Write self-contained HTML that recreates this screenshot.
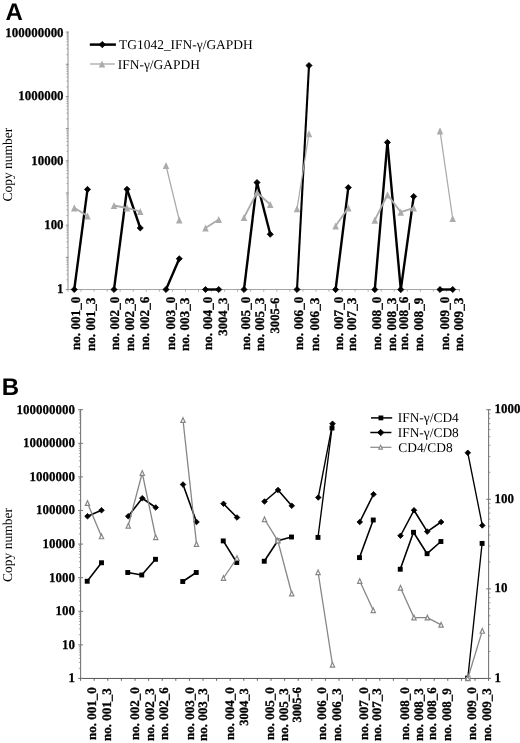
<!DOCTYPE html>
<html lang="en"><head><meta charset="utf-8"><title>Figure</title>
<style>html,body{margin:0;padding:0;background:#fff}svg{display:block}</style></head>
<body>
<svg width="520" height="743" viewBox="0 0 520 743">
<rect width="520" height="743" fill="#fff"/>
<g text-rendering="geometricPrecision">
<text x="5.4" y="19.6" font-size="24" font-weight="bold" text-anchor="start" font-family="'Liberation Sans', sans-serif" fill="#000" >A</text>
<text x="1.8" y="395" font-size="24" font-weight="bold" text-anchor="start" font-family="'Liberation Sans', sans-serif" fill="#000" >B</text>
<line x1="68" y1="31.6" x2="68" y2="290" stroke="#8e8e8e" stroke-width="1.0" />
<line x1="67.5" y1="289.5" x2="460" y2="289.5" stroke="#a4a4a4" stroke-width="1.1" />
<line x1="65.8" y1="289.5" x2="68.6" y2="289.5" stroke="#8e8e8e" stroke-width="1" />
<line x1="66.4" y1="279.81" x2="68" y2="279.81" stroke="#8e8e8e" stroke-width="0.7" />
<line x1="66.4" y1="274.15" x2="68" y2="274.15" stroke="#8e8e8e" stroke-width="0.7" />
<line x1="66.4" y1="270.13" x2="68" y2="270.13" stroke="#8e8e8e" stroke-width="0.7" />
<line x1="66.4" y1="267.01" x2="68" y2="267.01" stroke="#8e8e8e" stroke-width="0.7" />
<line x1="66.4" y1="264.46" x2="68" y2="264.46" stroke="#8e8e8e" stroke-width="0.7" />
<line x1="66.4" y1="262.31" x2="68" y2="262.31" stroke="#8e8e8e" stroke-width="0.7" />
<line x1="66.4" y1="260.44" x2="68" y2="260.44" stroke="#8e8e8e" stroke-width="0.7" />
<line x1="66.4" y1="258.8" x2="68" y2="258.8" stroke="#8e8e8e" stroke-width="0.7" />
<line x1="65.8" y1="257.32" x2="68.6" y2="257.32" stroke="#8e8e8e" stroke-width="1" />
<line x1="66.4" y1="247.64" x2="68" y2="247.64" stroke="#8e8e8e" stroke-width="0.7" />
<line x1="66.4" y1="241.97" x2="68" y2="241.97" stroke="#8e8e8e" stroke-width="0.7" />
<line x1="66.4" y1="237.95" x2="68" y2="237.95" stroke="#8e8e8e" stroke-width="0.7" />
<line x1="66.4" y1="234.84" x2="68" y2="234.84" stroke="#8e8e8e" stroke-width="0.7" />
<line x1="66.4" y1="232.29" x2="68" y2="232.29" stroke="#8e8e8e" stroke-width="0.7" />
<line x1="66.4" y1="230.13" x2="68" y2="230.13" stroke="#8e8e8e" stroke-width="0.7" />
<line x1="66.4" y1="228.27" x2="68" y2="228.27" stroke="#8e8e8e" stroke-width="0.7" />
<line x1="66.4" y1="226.62" x2="68" y2="226.62" stroke="#8e8e8e" stroke-width="0.7" />
<line x1="65.8" y1="225.15" x2="68.6" y2="225.15" stroke="#8e8e8e" stroke-width="1" />
<line x1="66.4" y1="215.46" x2="68" y2="215.46" stroke="#8e8e8e" stroke-width="0.7" />
<line x1="66.4" y1="209.8" x2="68" y2="209.8" stroke="#8e8e8e" stroke-width="0.7" />
<line x1="66.4" y1="205.78" x2="68" y2="205.78" stroke="#8e8e8e" stroke-width="0.7" />
<line x1="66.4" y1="202.66" x2="68" y2="202.66" stroke="#8e8e8e" stroke-width="0.7" />
<line x1="66.4" y1="200.11" x2="68" y2="200.11" stroke="#8e8e8e" stroke-width="0.7" />
<line x1="66.4" y1="197.96" x2="68" y2="197.96" stroke="#8e8e8e" stroke-width="0.7" />
<line x1="66.4" y1="196.09" x2="68" y2="196.09" stroke="#8e8e8e" stroke-width="0.7" />
<line x1="66.4" y1="194.45" x2="68" y2="194.45" stroke="#8e8e8e" stroke-width="0.7" />
<line x1="65.8" y1="192.98" x2="68.6" y2="192.98" stroke="#8e8e8e" stroke-width="1" />
<line x1="66.4" y1="183.29" x2="68" y2="183.29" stroke="#8e8e8e" stroke-width="0.7" />
<line x1="66.4" y1="177.62" x2="68" y2="177.62" stroke="#8e8e8e" stroke-width="0.7" />
<line x1="66.4" y1="173.6" x2="68" y2="173.6" stroke="#8e8e8e" stroke-width="0.7" />
<line x1="66.4" y1="170.49" x2="68" y2="170.49" stroke="#8e8e8e" stroke-width="0.7" />
<line x1="66.4" y1="167.94" x2="68" y2="167.94" stroke="#8e8e8e" stroke-width="0.7" />
<line x1="66.4" y1="165.78" x2="68" y2="165.78" stroke="#8e8e8e" stroke-width="0.7" />
<line x1="66.4" y1="163.92" x2="68" y2="163.92" stroke="#8e8e8e" stroke-width="0.7" />
<line x1="66.4" y1="162.27" x2="68" y2="162.27" stroke="#8e8e8e" stroke-width="0.7" />
<line x1="65.8" y1="160.8" x2="68.6" y2="160.8" stroke="#8e8e8e" stroke-width="1" />
<line x1="66.4" y1="151.11" x2="68" y2="151.11" stroke="#8e8e8e" stroke-width="0.7" />
<line x1="66.4" y1="145.45" x2="68" y2="145.45" stroke="#8e8e8e" stroke-width="0.7" />
<line x1="66.4" y1="141.43" x2="68" y2="141.43" stroke="#8e8e8e" stroke-width="0.7" />
<line x1="66.4" y1="138.31" x2="68" y2="138.31" stroke="#8e8e8e" stroke-width="0.7" />
<line x1="66.4" y1="135.76" x2="68" y2="135.76" stroke="#8e8e8e" stroke-width="0.7" />
<line x1="66.4" y1="133.61" x2="68" y2="133.61" stroke="#8e8e8e" stroke-width="0.7" />
<line x1="66.4" y1="131.74" x2="68" y2="131.74" stroke="#8e8e8e" stroke-width="0.7" />
<line x1="66.4" y1="130.1" x2="68" y2="130.1" stroke="#8e8e8e" stroke-width="0.7" />
<line x1="65.8" y1="128.62" x2="68.6" y2="128.62" stroke="#8e8e8e" stroke-width="1" />
<line x1="66.4" y1="118.94" x2="68" y2="118.94" stroke="#8e8e8e" stroke-width="0.7" />
<line x1="66.4" y1="113.27" x2="68" y2="113.27" stroke="#8e8e8e" stroke-width="0.7" />
<line x1="66.4" y1="109.25" x2="68" y2="109.25" stroke="#8e8e8e" stroke-width="0.7" />
<line x1="66.4" y1="106.14" x2="68" y2="106.14" stroke="#8e8e8e" stroke-width="0.7" />
<line x1="66.4" y1="103.59" x2="68" y2="103.59" stroke="#8e8e8e" stroke-width="0.7" />
<line x1="66.4" y1="101.43" x2="68" y2="101.43" stroke="#8e8e8e" stroke-width="0.7" />
<line x1="66.4" y1="99.57" x2="68" y2="99.57" stroke="#8e8e8e" stroke-width="0.7" />
<line x1="66.4" y1="97.92" x2="68" y2="97.92" stroke="#8e8e8e" stroke-width="0.7" />
<line x1="65.8" y1="96.45" x2="68.6" y2="96.45" stroke="#8e8e8e" stroke-width="1" />
<line x1="66.4" y1="86.76" x2="68" y2="86.76" stroke="#8e8e8e" stroke-width="0.7" />
<line x1="66.4" y1="81.1" x2="68" y2="81.1" stroke="#8e8e8e" stroke-width="0.7" />
<line x1="66.4" y1="77.08" x2="68" y2="77.08" stroke="#8e8e8e" stroke-width="0.7" />
<line x1="66.4" y1="73.96" x2="68" y2="73.96" stroke="#8e8e8e" stroke-width="0.7" />
<line x1="66.4" y1="71.41" x2="68" y2="71.41" stroke="#8e8e8e" stroke-width="0.7" />
<line x1="66.4" y1="69.26" x2="68" y2="69.26" stroke="#8e8e8e" stroke-width="0.7" />
<line x1="66.4" y1="67.39" x2="68" y2="67.39" stroke="#8e8e8e" stroke-width="0.7" />
<line x1="66.4" y1="65.75" x2="68" y2="65.75" stroke="#8e8e8e" stroke-width="0.7" />
<line x1="65.8" y1="64.28" x2="68.6" y2="64.28" stroke="#8e8e8e" stroke-width="1" />
<line x1="66.4" y1="54.59" x2="68" y2="54.59" stroke="#8e8e8e" stroke-width="0.7" />
<line x1="66.4" y1="48.92" x2="68" y2="48.92" stroke="#8e8e8e" stroke-width="0.7" />
<line x1="66.4" y1="44.9" x2="68" y2="44.9" stroke="#8e8e8e" stroke-width="0.7" />
<line x1="66.4" y1="41.79" x2="68" y2="41.79" stroke="#8e8e8e" stroke-width="0.7" />
<line x1="66.4" y1="39.24" x2="68" y2="39.24" stroke="#8e8e8e" stroke-width="0.7" />
<line x1="66.4" y1="37.08" x2="68" y2="37.08" stroke="#8e8e8e" stroke-width="0.7" />
<line x1="66.4" y1="35.22" x2="68" y2="35.22" stroke="#8e8e8e" stroke-width="0.7" />
<line x1="66.4" y1="33.57" x2="68" y2="33.57" stroke="#8e8e8e" stroke-width="0.7" />
<line x1="65.8" y1="32.1" x2="68.6" y2="32.1" stroke="#8e8e8e" stroke-width="1" />
<line x1="68" y1="289.5" x2="68" y2="291.7" stroke="#a4a4a4" stroke-width="0.9" />
<line x1="81.05" y1="289.5" x2="81.05" y2="291.7" stroke="#a4a4a4" stroke-width="0.9" />
<line x1="94.1" y1="289.5" x2="94.1" y2="291.7" stroke="#a4a4a4" stroke-width="0.9" />
<line x1="107.15" y1="289.5" x2="107.15" y2="291.7" stroke="#a4a4a4" stroke-width="0.9" />
<line x1="120.2" y1="289.5" x2="120.2" y2="291.7" stroke="#a4a4a4" stroke-width="0.9" />
<line x1="133.25" y1="289.5" x2="133.25" y2="291.7" stroke="#a4a4a4" stroke-width="0.9" />
<line x1="146.3" y1="289.5" x2="146.3" y2="291.7" stroke="#a4a4a4" stroke-width="0.9" />
<line x1="159.35" y1="289.5" x2="159.35" y2="291.7" stroke="#a4a4a4" stroke-width="0.9" />
<line x1="172.4" y1="289.5" x2="172.4" y2="291.7" stroke="#a4a4a4" stroke-width="0.9" />
<line x1="185.45" y1="289.5" x2="185.45" y2="291.7" stroke="#a4a4a4" stroke-width="0.9" />
<line x1="198.5" y1="289.5" x2="198.5" y2="291.7" stroke="#a4a4a4" stroke-width="0.9" />
<line x1="211.55" y1="289.5" x2="211.55" y2="291.7" stroke="#a4a4a4" stroke-width="0.9" />
<line x1="224.6" y1="289.5" x2="224.6" y2="291.7" stroke="#a4a4a4" stroke-width="0.9" />
<line x1="237.65" y1="289.5" x2="237.65" y2="291.7" stroke="#a4a4a4" stroke-width="0.9" />
<line x1="250.7" y1="289.5" x2="250.7" y2="291.7" stroke="#a4a4a4" stroke-width="0.9" />
<line x1="263.75" y1="289.5" x2="263.75" y2="291.7" stroke="#a4a4a4" stroke-width="0.9" />
<line x1="276.8" y1="289.5" x2="276.8" y2="291.7" stroke="#a4a4a4" stroke-width="0.9" />
<line x1="289.85" y1="289.5" x2="289.85" y2="291.7" stroke="#a4a4a4" stroke-width="0.9" />
<line x1="302.9" y1="289.5" x2="302.9" y2="291.7" stroke="#a4a4a4" stroke-width="0.9" />
<line x1="315.95" y1="289.5" x2="315.95" y2="291.7" stroke="#a4a4a4" stroke-width="0.9" />
<line x1="329" y1="289.5" x2="329" y2="291.7" stroke="#a4a4a4" stroke-width="0.9" />
<line x1="342.05" y1="289.5" x2="342.05" y2="291.7" stroke="#a4a4a4" stroke-width="0.9" />
<line x1="355.1" y1="289.5" x2="355.1" y2="291.7" stroke="#a4a4a4" stroke-width="0.9" />
<line x1="368.15" y1="289.5" x2="368.15" y2="291.7" stroke="#a4a4a4" stroke-width="0.9" />
<line x1="381.2" y1="289.5" x2="381.2" y2="291.7" stroke="#a4a4a4" stroke-width="0.9" />
<line x1="394.25" y1="289.5" x2="394.25" y2="291.7" stroke="#a4a4a4" stroke-width="0.9" />
<line x1="407.3" y1="289.5" x2="407.3" y2="291.7" stroke="#a4a4a4" stroke-width="0.9" />
<line x1="420.35" y1="289.5" x2="420.35" y2="291.7" stroke="#a4a4a4" stroke-width="0.9" />
<line x1="433.4" y1="289.5" x2="433.4" y2="291.7" stroke="#a4a4a4" stroke-width="0.9" />
<line x1="446.45" y1="289.5" x2="446.45" y2="291.7" stroke="#a4a4a4" stroke-width="0.9" />
<line x1="459.5" y1="289.5" x2="459.5" y2="291.7" stroke="#a4a4a4" stroke-width="0.9" />
<text transform="translate(63.6 37.3) scale(0.967 1)" font-size="13.4" font-weight="bold" text-anchor="end" font-family="'Liberation Serif', serif" fill="#000" stroke="#000" stroke-width="0.25">100000000</text>
<text transform="translate(63.6 100.35) scale(0.967 1)" font-size="13.4" font-weight="bold" text-anchor="end" font-family="'Liberation Serif', serif" fill="#000" stroke="#000" stroke-width="0.25">1000000</text>
<text transform="translate(63.6 165) scale(0.967 1)" font-size="13.4" font-weight="bold" text-anchor="end" font-family="'Liberation Serif', serif" fill="#000" stroke="#000" stroke-width="0.25">10000</text>
<text transform="translate(63.6 229.35) scale(0.967 1)" font-size="13.4" font-weight="bold" text-anchor="end" font-family="'Liberation Serif', serif" fill="#000" stroke="#000" stroke-width="0.25">100</text>
<text transform="translate(63.6 293.4) scale(0.967 1)" font-size="13.4" font-weight="bold" text-anchor="end" font-family="'Liberation Serif', serif" fill="#000" stroke="#000" stroke-width="0.25">1</text>
<text transform="translate(12.3 164.6) rotate(-90)" font-size="13.5" font-weight="normal" text-anchor="middle" font-family="'Liberation Serif', serif" fill="#000">Copy number</text>
<line x1="89.8" y1="44.6" x2="115.9" y2="44.6" stroke="#000" stroke-width="2.5" />
<path d="M102.3 41.4L105.5 44.6L102.3 47.8L99.1 44.6Z" fill="#000" stroke="#000" stroke-width="0.8" stroke-linejoin="round"/>
<text x="119.1" y="48.8" font-size="13.45" font-weight="normal" text-anchor="start" font-family="'Liberation Serif', serif" fill="#000" >TG1042_IFN-γ/GAPDH</text>
<line x1="90.2" y1="64" x2="114.8" y2="64" stroke="#b2b2b2" stroke-width="1.5" />
<path d="M102 60.6L105.25 67.4L98.75 67.4Z" fill="#ababab"/>
<text x="117.8" y="68.5" font-size="13.45" font-weight="normal" text-anchor="start" font-family="'Liberation Serif', serif" fill="#000" >IFN-γ/GAPDH</text>
<line x1="74.25" y1="289.5" x2="87.5" y2="189.4" stroke="#000" stroke-width="2.40"/>
<path d="M74.25 286.45L77.3 289.5L74.25 292.55L71.2 289.5Z" fill="#000" stroke="#000" stroke-width="0.8" stroke-linejoin="round"/>
<path d="M87.5 186.35L90.55 189.4L87.5 192.45L84.45 189.4Z" fill="#000" stroke="#000" stroke-width="0.8" stroke-linejoin="round"/>
<line x1="114" y1="289.5" x2="127" y2="189.25" stroke="#000" stroke-width="2.40"/>
<line x1="127" y1="189.25" x2="140.25" y2="228" stroke="#000" stroke-width="2.40"/>
<path d="M114 286.45L117.05 289.5L114 292.55L110.95 289.5Z" fill="#000" stroke="#000" stroke-width="0.8" stroke-linejoin="round"/>
<path d="M127 186.2L130.05 189.25L127 192.3L123.95 189.25Z" fill="#000" stroke="#000" stroke-width="0.8" stroke-linejoin="round"/>
<path d="M140.25 224.95L143.3 228L140.25 231.05L137.2 228Z" fill="#000" stroke="#000" stroke-width="0.8" stroke-linejoin="round"/>
<line x1="166" y1="289.5" x2="179.25" y2="258.75" stroke="#000" stroke-width="2.40"/>
<path d="M166 286.45L169.05 289.5L166 292.55L162.95 289.5Z" fill="#000" stroke="#000" stroke-width="0.8" stroke-linejoin="round"/>
<path d="M179.25 255.7L182.3 258.75L179.25 261.8L176.2 258.75Z" fill="#000" stroke="#000" stroke-width="0.8" stroke-linejoin="round"/>
<line x1="205.5" y1="289.5" x2="218.75" y2="289.5" stroke="#000" stroke-width="2.40"/>
<path d="M205.5 286.45L208.55 289.5L205.5 292.55L202.45 289.5Z" fill="#000" stroke="#000" stroke-width="0.8" stroke-linejoin="round"/>
<path d="M218.75 286.45L221.8 289.5L218.75 292.55L215.7 289.5Z" fill="#000" stroke="#000" stroke-width="0.8" stroke-linejoin="round"/>
<line x1="244" y1="289.5" x2="257" y2="182.5" stroke="#000" stroke-width="2.40"/>
<line x1="257" y1="182.5" x2="270.25" y2="234.25" stroke="#000" stroke-width="2.40"/>
<path d="M244 286.45L247.05 289.5L244 292.55L240.95 289.5Z" fill="#000" stroke="#000" stroke-width="0.8" stroke-linejoin="round"/>
<path d="M257 179.45L260.05 182.5L257 185.55L253.95 182.5Z" fill="#000" stroke="#000" stroke-width="0.8" stroke-linejoin="round"/>
<path d="M270.25 231.2L273.3 234.25L270.25 237.3L267.2 234.25Z" fill="#000" stroke="#000" stroke-width="0.8" stroke-linejoin="round"/>
<line x1="297" y1="289.5" x2="309" y2="65.5" stroke="#000" stroke-width="2.10"/>
<path d="M297 286.45L300.05 289.5L297 292.55L293.95 289.5Z" fill="#000" stroke="#000" stroke-width="0.8" stroke-linejoin="round"/>
<path d="M309 62.45L312.05 65.5L309 68.55L305.95 65.5Z" fill="#000" stroke="#000" stroke-width="0.8" stroke-linejoin="round"/>
<line x1="335.6" y1="289.6" x2="348.3" y2="187.6" stroke="#000" stroke-width="2.40"/>
<path d="M335.6 286.55L338.65 289.6L335.6 292.65L332.55 289.6Z" fill="#000" stroke="#000" stroke-width="0.8" stroke-linejoin="round"/>
<path d="M348.3 184.55L351.35 187.6L348.3 190.65L345.25 187.6Z" fill="#000" stroke="#000" stroke-width="0.8" stroke-linejoin="round"/>
<line x1="374.8" y1="289.6" x2="387.4" y2="142.4" stroke="#000" stroke-width="2.40"/>
<line x1="387.4" y1="142.4" x2="400.8" y2="289.6" stroke="#000" stroke-width="2.40"/>
<line x1="400.8" y1="289.6" x2="413.7" y2="196.5" stroke="#000" stroke-width="2.40"/>
<path d="M374.8 286.55L377.85 289.6L374.8 292.65L371.75 289.6Z" fill="#000" stroke="#000" stroke-width="0.8" stroke-linejoin="round"/>
<path d="M387.4 139.35L390.45 142.4L387.4 145.45L384.35 142.4Z" fill="#000" stroke="#000" stroke-width="0.8" stroke-linejoin="round"/>
<path d="M400.8 286.55L403.85 289.6L400.8 292.65L397.75 289.6Z" fill="#000" stroke="#000" stroke-width="0.8" stroke-linejoin="round"/>
<path d="M413.7 193.45L416.75 196.5L413.7 199.55L410.65 196.5Z" fill="#000" stroke="#000" stroke-width="0.8" stroke-linejoin="round"/>
<line x1="440" y1="289.5" x2="452.7" y2="289.5" stroke="#000" stroke-width="2.40"/>
<path d="M440 286.45L443.05 289.5L440 292.55L436.95 289.5Z" fill="#000" stroke="#000" stroke-width="0.8" stroke-linejoin="round"/>
<path d="M452.7 286.45L455.75 289.5L452.7 292.55L449.65 289.5Z" fill="#000" stroke="#000" stroke-width="0.8" stroke-linejoin="round"/>
<polyline points="74.25,207.8 87.5,216" fill="none" stroke="#ababab" stroke-width="1.8" stroke-linejoin="miter"/>
<path d="M74.25 204.2L77.5 211.4L71 211.4Z" fill="#ababab"/>
<path d="M87.5 212.4L90.75 219.6L84.25 219.6Z" fill="#ababab"/>
<polyline points="114,205.5 127,208 140.25,211.5" fill="none" stroke="#ababab" stroke-width="1.8" stroke-linejoin="miter"/>
<path d="M114 201.9L117.25 209.1L110.75 209.1Z" fill="#ababab"/>
<path d="M127 204.4L130.25 211.6L123.75 211.6Z" fill="#ababab"/>
<path d="M140.25 207.9L143.5 215.1L137 215.1Z" fill="#ababab"/>
<polyline points="166,165.5 179.25,220" fill="none" stroke="#ababab" stroke-width="1.25" stroke-linejoin="miter"/>
<path d="M166 161.9L169.25 169.1L162.75 169.1Z" fill="#ababab"/>
<path d="M179.25 216.4L182.5 223.6L176 223.6Z" fill="#ababab"/>
<polyline points="205.5,228 218.75,219.5" fill="none" stroke="#ababab" stroke-width="1.8" stroke-linejoin="miter"/>
<path d="M205.5 224.4L208.75 231.6L202.25 231.6Z" fill="#ababab"/>
<path d="M218.75 215.9L222 223.1L215.5 223.1Z" fill="#ababab"/>
<polyline points="244,217.5 257,192.5 270.25,204.5" fill="none" stroke="#ababab" stroke-width="1.8" stroke-linejoin="miter"/>
<path d="M244 213.9L247.25 221.1L240.75 221.1Z" fill="#ababab"/>
<path d="M257 188.9L260.25 196.1L253.75 196.1Z" fill="#ababab"/>
<path d="M270.25 200.9L273.5 208.1L267 208.1Z" fill="#ababab"/>
<polyline points="297,208.75 309,133.75" fill="none" stroke="#ababab" stroke-width="1.25" stroke-linejoin="miter"/>
<path d="M297 205.15L300.25 212.35L293.75 212.35Z" fill="#ababab"/>
<path d="M309 130.15L312.25 137.35L305.75 137.35Z" fill="#ababab"/>
<polyline points="335.6,226 348.3,207.8" fill="none" stroke="#ababab" stroke-width="1.8" stroke-linejoin="miter"/>
<path d="M335.6 222.4L338.85 229.6L332.35 229.6Z" fill="#ababab"/>
<path d="M348.3 204.2L351.55 211.4L345.05 211.4Z" fill="#ababab"/>
<polyline points="374.8,220.2 387.5,194.8 400.8,212.1 413.7,207.8" fill="none" stroke="#ababab" stroke-width="1.8" stroke-linejoin="miter"/>
<path d="M374.8 216.6L378.05 223.8L371.55 223.8Z" fill="#ababab"/>
<path d="M387.5 191.2L390.75 198.4L384.25 198.4Z" fill="#ababab"/>
<path d="M400.8 208.5L404.05 215.7L397.55 215.7Z" fill="#ababab"/>
<path d="M413.7 204.2L416.95 211.4L410.45 211.4Z" fill="#ababab"/>
<polyline points="440,130.8 452.7,218.5" fill="none" stroke="#ababab" stroke-width="1.25" stroke-linejoin="miter"/>
<path d="M440 127.2L443.25 134.4L436.75 134.4Z" fill="#ababab"/>
<path d="M452.7 214.9L455.95 222.1L449.45 222.1Z" fill="#ababab"/>
<text transform="translate(80.4 296.6) rotate(-90)" font-size="13.2" font-weight="bold" text-anchor="end" font-family="'Liberation Serif', serif" fill="#000" stroke="#000" stroke-width="0.3">no. 001_0</text>
<text transform="translate(95.2 297.6) rotate(-90)" font-size="13.2" font-weight="bold" text-anchor="end" font-family="'Liberation Serif', serif" fill="#000" stroke="#000" stroke-width="0.3">no. 001_3</text>
<text transform="translate(118.65 296.6) rotate(-90)" font-size="13.2" font-weight="bold" text-anchor="end" font-family="'Liberation Serif', serif" fill="#000" stroke="#000" stroke-width="0.3">no. 002_0</text>
<text transform="translate(134 297.6) rotate(-90)" font-size="13.2" font-weight="bold" text-anchor="end" font-family="'Liberation Serif', serif" fill="#000" stroke="#000" stroke-width="0.3">no. 002_3</text>
<text transform="translate(149 296.6) rotate(-90)" font-size="13.2" font-weight="bold" text-anchor="end" font-family="'Liberation Serif', serif" fill="#000" stroke="#000" stroke-width="0.3">no. 002_6</text>
<text transform="translate(174.6 296.6) rotate(-90)" font-size="13.2" font-weight="bold" text-anchor="end" font-family="'Liberation Serif', serif" fill="#000" stroke="#000" stroke-width="0.3">no. 003_0</text>
<text transform="translate(188.5 297.6) rotate(-90)" font-size="13.2" font-weight="bold" text-anchor="end" font-family="'Liberation Serif', serif" fill="#000" stroke="#000" stroke-width="0.3">no. 003_3</text>
<text transform="translate(211.5 296.6) rotate(-90)" font-size="13.2" font-weight="bold" text-anchor="end" font-family="'Liberation Serif', serif" fill="#000" stroke="#000" stroke-width="0.3">no. 004_0</text>
<text transform="translate(226.9 297.6) rotate(-90)" font-size="12.7" font-weight="bold" text-anchor="end" font-family="'Liberation Serif', serif" fill="#000" stroke="#000" stroke-width="0.3">3004_3</text>
<text transform="translate(250.4 296.6) rotate(-90)" font-size="13.2" font-weight="bold" text-anchor="end" font-family="'Liberation Serif', serif" fill="#000" stroke="#000" stroke-width="0.3">no. 005_0</text>
<text transform="translate(264 297.6) rotate(-90)" font-size="13.2" font-weight="bold" text-anchor="end" font-family="'Liberation Serif', serif" fill="#000" stroke="#000" stroke-width="0.3">no. 005_3</text>
<text transform="translate(278.5 297.6) rotate(-90)" font-size="12.7" font-weight="bold" text-anchor="end" font-family="'Liberation Serif', serif" fill="#000" stroke="#000" stroke-width="0.3">3005-6</text>
<text transform="translate(303.1 296.6) rotate(-90)" font-size="13.2" font-weight="bold" text-anchor="end" font-family="'Liberation Serif', serif" fill="#000" stroke="#000" stroke-width="0.3">no. 006_0</text>
<text transform="translate(318.5 297.6) rotate(-90)" font-size="13.2" font-weight="bold" text-anchor="end" font-family="'Liberation Serif', serif" fill="#000" stroke="#000" stroke-width="0.3">no. 006_3</text>
<text transform="translate(343.1 296.6) rotate(-90)" font-size="13.2" font-weight="bold" text-anchor="end" font-family="'Liberation Serif', serif" fill="#000" stroke="#000" stroke-width="0.3">no. 007_0</text>
<text transform="translate(356 297.6) rotate(-90)" font-size="13.2" font-weight="bold" text-anchor="end" font-family="'Liberation Serif', serif" fill="#000" stroke="#000" stroke-width="0.3">no. 007_3</text>
<text transform="translate(381.3 296.6) rotate(-90)" font-size="13.2" font-weight="bold" text-anchor="end" font-family="'Liberation Serif', serif" fill="#000" stroke="#000" stroke-width="0.3">no. 008_0</text>
<text transform="translate(396.2 297.6) rotate(-90)" font-size="13.2" font-weight="bold" text-anchor="end" font-family="'Liberation Serif', serif" fill="#000" stroke="#000" stroke-width="0.3">no. 008_3</text>
<text transform="translate(408.3 296.6) rotate(-90)" font-size="13.2" font-weight="bold" text-anchor="end" font-family="'Liberation Serif', serif" fill="#000" stroke="#000" stroke-width="0.3">no. 008_6</text>
<text transform="translate(422.7 297.6) rotate(-90)" font-size="13.2" font-weight="bold" text-anchor="end" font-family="'Liberation Serif', serif" fill="#000" stroke="#000" stroke-width="0.3">no. 008_9</text>
<text transform="translate(448.7 296.6) rotate(-90)" font-size="13.2" font-weight="bold" text-anchor="end" font-family="'Liberation Serif', serif" fill="#000" stroke="#000" stroke-width="0.3">no. 009_0</text>
<text transform="translate(463.1 297.6) rotate(-90)" font-size="13.2" font-weight="bold" text-anchor="end" font-family="'Liberation Serif', serif" fill="#000" stroke="#000" stroke-width="0.3">no. 009_3</text>
<line x1="80.6" y1="409.2" x2="80.6" y2="678.95" stroke="#777" stroke-width="1.1" />
<line x1="488.6" y1="409.2" x2="488.6" y2="678.95" stroke="#777" stroke-width="1.1" />
<line x1="80.1" y1="678.45" x2="491" y2="678.45" stroke="#555" stroke-width="1.0" />
<line x1="78.2" y1="678.45" x2="83" y2="678.45" stroke="#777" stroke-width="1" />
<line x1="78.9" y1="668.34" x2="80.6" y2="668.34" stroke="#777" stroke-width="0.7" />
<line x1="78.9" y1="662.42" x2="80.6" y2="662.42" stroke="#777" stroke-width="0.7" />
<line x1="78.9" y1="658.22" x2="80.6" y2="658.22" stroke="#777" stroke-width="0.7" />
<line x1="78.9" y1="654.97" x2="80.6" y2="654.97" stroke="#777" stroke-width="0.7" />
<line x1="78.9" y1="652.31" x2="80.6" y2="652.31" stroke="#777" stroke-width="0.7" />
<line x1="78.9" y1="650.06" x2="80.6" y2="650.06" stroke="#777" stroke-width="0.7" />
<line x1="78.9" y1="648.11" x2="80.6" y2="648.11" stroke="#777" stroke-width="0.7" />
<line x1="78.9" y1="646.39" x2="80.6" y2="646.39" stroke="#777" stroke-width="0.7" />
<line x1="78.2" y1="644.86" x2="83" y2="644.86" stroke="#777" stroke-width="1" />
<line x1="78.9" y1="634.74" x2="80.6" y2="634.74" stroke="#777" stroke-width="0.7" />
<line x1="78.9" y1="628.83" x2="80.6" y2="628.83" stroke="#777" stroke-width="0.7" />
<line x1="78.9" y1="624.63" x2="80.6" y2="624.63" stroke="#777" stroke-width="0.7" />
<line x1="78.9" y1="621.38" x2="80.6" y2="621.38" stroke="#777" stroke-width="0.7" />
<line x1="78.9" y1="618.72" x2="80.6" y2="618.72" stroke="#777" stroke-width="0.7" />
<line x1="78.9" y1="616.47" x2="80.6" y2="616.47" stroke="#777" stroke-width="0.7" />
<line x1="78.9" y1="614.52" x2="80.6" y2="614.52" stroke="#777" stroke-width="0.7" />
<line x1="78.9" y1="612.8" x2="80.6" y2="612.8" stroke="#777" stroke-width="0.7" />
<line x1="78.2" y1="611.26" x2="83" y2="611.26" stroke="#777" stroke-width="1" />
<line x1="78.9" y1="601.15" x2="80.6" y2="601.15" stroke="#777" stroke-width="0.7" />
<line x1="78.9" y1="595.23" x2="80.6" y2="595.23" stroke="#777" stroke-width="0.7" />
<line x1="78.9" y1="591.04" x2="80.6" y2="591.04" stroke="#777" stroke-width="0.7" />
<line x1="78.9" y1="587.78" x2="80.6" y2="587.78" stroke="#777" stroke-width="0.7" />
<line x1="78.9" y1="585.12" x2="80.6" y2="585.12" stroke="#777" stroke-width="0.7" />
<line x1="78.9" y1="582.87" x2="80.6" y2="582.87" stroke="#777" stroke-width="0.7" />
<line x1="78.9" y1="580.92" x2="80.6" y2="580.92" stroke="#777" stroke-width="0.7" />
<line x1="78.9" y1="579.21" x2="80.6" y2="579.21" stroke="#777" stroke-width="0.7" />
<line x1="78.2" y1="577.67" x2="83" y2="577.67" stroke="#777" stroke-width="1" />
<line x1="78.9" y1="567.56" x2="80.6" y2="567.56" stroke="#777" stroke-width="0.7" />
<line x1="78.9" y1="561.64" x2="80.6" y2="561.64" stroke="#777" stroke-width="0.7" />
<line x1="78.9" y1="557.44" x2="80.6" y2="557.44" stroke="#777" stroke-width="0.7" />
<line x1="78.9" y1="554.19" x2="80.6" y2="554.19" stroke="#777" stroke-width="0.7" />
<line x1="78.9" y1="551.53" x2="80.6" y2="551.53" stroke="#777" stroke-width="0.7" />
<line x1="78.9" y1="549.28" x2="80.6" y2="549.28" stroke="#777" stroke-width="0.7" />
<line x1="78.9" y1="547.33" x2="80.6" y2="547.33" stroke="#777" stroke-width="0.7" />
<line x1="78.9" y1="545.61" x2="80.6" y2="545.61" stroke="#777" stroke-width="0.7" />
<line x1="78.2" y1="544.08" x2="83" y2="544.08" stroke="#777" stroke-width="1" />
<line x1="78.9" y1="533.96" x2="80.6" y2="533.96" stroke="#777" stroke-width="0.7" />
<line x1="78.9" y1="528.05" x2="80.6" y2="528.05" stroke="#777" stroke-width="0.7" />
<line x1="78.9" y1="523.85" x2="80.6" y2="523.85" stroke="#777" stroke-width="0.7" />
<line x1="78.9" y1="520.59" x2="80.6" y2="520.59" stroke="#777" stroke-width="0.7" />
<line x1="78.9" y1="517.93" x2="80.6" y2="517.93" stroke="#777" stroke-width="0.7" />
<line x1="78.9" y1="515.68" x2="80.6" y2="515.68" stroke="#777" stroke-width="0.7" />
<line x1="78.9" y1="513.74" x2="80.6" y2="513.74" stroke="#777" stroke-width="0.7" />
<line x1="78.9" y1="512.02" x2="80.6" y2="512.02" stroke="#777" stroke-width="0.7" />
<line x1="78.2" y1="510.48" x2="83" y2="510.48" stroke="#777" stroke-width="1" />
<line x1="78.9" y1="500.37" x2="80.6" y2="500.37" stroke="#777" stroke-width="0.7" />
<line x1="78.9" y1="494.45" x2="80.6" y2="494.45" stroke="#777" stroke-width="0.7" />
<line x1="78.9" y1="490.26" x2="80.6" y2="490.26" stroke="#777" stroke-width="0.7" />
<line x1="78.9" y1="487" x2="80.6" y2="487" stroke="#777" stroke-width="0.7" />
<line x1="78.9" y1="484.34" x2="80.6" y2="484.34" stroke="#777" stroke-width="0.7" />
<line x1="78.9" y1="482.09" x2="80.6" y2="482.09" stroke="#777" stroke-width="0.7" />
<line x1="78.9" y1="480.14" x2="80.6" y2="480.14" stroke="#777" stroke-width="0.7" />
<line x1="78.9" y1="478.42" x2="80.6" y2="478.42" stroke="#777" stroke-width="0.7" />
<line x1="78.2" y1="476.89" x2="83" y2="476.89" stroke="#777" stroke-width="1" />
<line x1="78.9" y1="466.77" x2="80.6" y2="466.77" stroke="#777" stroke-width="0.7" />
<line x1="78.9" y1="460.86" x2="80.6" y2="460.86" stroke="#777" stroke-width="0.7" />
<line x1="78.9" y1="456.66" x2="80.6" y2="456.66" stroke="#777" stroke-width="0.7" />
<line x1="78.9" y1="453.41" x2="80.6" y2="453.41" stroke="#777" stroke-width="0.7" />
<line x1="78.9" y1="450.75" x2="80.6" y2="450.75" stroke="#777" stroke-width="0.7" />
<line x1="78.9" y1="448.5" x2="80.6" y2="448.5" stroke="#777" stroke-width="0.7" />
<line x1="78.9" y1="446.55" x2="80.6" y2="446.55" stroke="#777" stroke-width="0.7" />
<line x1="78.9" y1="444.83" x2="80.6" y2="444.83" stroke="#777" stroke-width="0.7" />
<line x1="78.2" y1="443.29" x2="83" y2="443.29" stroke="#777" stroke-width="1" />
<line x1="78.9" y1="433.18" x2="80.6" y2="433.18" stroke="#777" stroke-width="0.7" />
<line x1="78.9" y1="427.27" x2="80.6" y2="427.27" stroke="#777" stroke-width="0.7" />
<line x1="78.9" y1="423.07" x2="80.6" y2="423.07" stroke="#777" stroke-width="0.7" />
<line x1="78.9" y1="419.81" x2="80.6" y2="419.81" stroke="#777" stroke-width="0.7" />
<line x1="78.9" y1="417.15" x2="80.6" y2="417.15" stroke="#777" stroke-width="0.7" />
<line x1="78.9" y1="414.9" x2="80.6" y2="414.9" stroke="#777" stroke-width="0.7" />
<line x1="78.9" y1="412.96" x2="80.6" y2="412.96" stroke="#777" stroke-width="0.7" />
<line x1="78.9" y1="411.24" x2="80.6" y2="411.24" stroke="#777" stroke-width="0.7" />
<line x1="78.2" y1="409.7" x2="83" y2="409.7" stroke="#777" stroke-width="1" />
<line x1="486.2" y1="678.45" x2="491" y2="678.45" stroke="#777" stroke-width="1" />
<line x1="488.6" y1="651.48" x2="490.4" y2="651.48" stroke="#777" stroke-width="0.7" />
<line x1="488.6" y1="635.71" x2="490.4" y2="635.71" stroke="#777" stroke-width="0.7" />
<line x1="488.6" y1="624.52" x2="490.4" y2="624.52" stroke="#777" stroke-width="0.7" />
<line x1="488.6" y1="615.83" x2="490.4" y2="615.83" stroke="#777" stroke-width="0.7" />
<line x1="488.6" y1="608.74" x2="490.4" y2="608.74" stroke="#777" stroke-width="0.7" />
<line x1="488.6" y1="602.74" x2="490.4" y2="602.74" stroke="#777" stroke-width="0.7" />
<line x1="488.6" y1="597.55" x2="490.4" y2="597.55" stroke="#777" stroke-width="0.7" />
<line x1="488.6" y1="592.97" x2="490.4" y2="592.97" stroke="#777" stroke-width="0.7" />
<line x1="486.2" y1="588.87" x2="491" y2="588.87" stroke="#777" stroke-width="1" />
<line x1="488.6" y1="561.9" x2="490.4" y2="561.9" stroke="#777" stroke-width="0.7" />
<line x1="488.6" y1="546.12" x2="490.4" y2="546.12" stroke="#777" stroke-width="0.7" />
<line x1="488.6" y1="534.93" x2="490.4" y2="534.93" stroke="#777" stroke-width="0.7" />
<line x1="488.6" y1="526.25" x2="490.4" y2="526.25" stroke="#777" stroke-width="0.7" />
<line x1="488.6" y1="519.16" x2="490.4" y2="519.16" stroke="#777" stroke-width="0.7" />
<line x1="488.6" y1="513.16" x2="490.4" y2="513.16" stroke="#777" stroke-width="0.7" />
<line x1="488.6" y1="507.96" x2="490.4" y2="507.96" stroke="#777" stroke-width="0.7" />
<line x1="488.6" y1="503.38" x2="490.4" y2="503.38" stroke="#777" stroke-width="0.7" />
<line x1="486.2" y1="499.28" x2="491" y2="499.28" stroke="#777" stroke-width="1" />
<line x1="488.6" y1="472.32" x2="490.4" y2="472.32" stroke="#777" stroke-width="0.7" />
<line x1="488.6" y1="456.54" x2="490.4" y2="456.54" stroke="#777" stroke-width="0.7" />
<line x1="488.6" y1="445.35" x2="490.4" y2="445.35" stroke="#777" stroke-width="0.7" />
<line x1="488.6" y1="436.67" x2="490.4" y2="436.67" stroke="#777" stroke-width="0.7" />
<line x1="488.6" y1="429.57" x2="490.4" y2="429.57" stroke="#777" stroke-width="0.7" />
<line x1="488.6" y1="423.58" x2="490.4" y2="423.58" stroke="#777" stroke-width="0.7" />
<line x1="488.6" y1="418.38" x2="490.4" y2="418.38" stroke="#777" stroke-width="0.7" />
<line x1="488.6" y1="413.8" x2="490.4" y2="413.8" stroke="#777" stroke-width="0.7" />
<line x1="486.2" y1="409.7" x2="491" y2="409.7" stroke="#777" stroke-width="1" />
<line x1="80.6" y1="678.45" x2="80.6" y2="680.85" stroke="#555" stroke-width="0.9" />
<line x1="94.2" y1="678.45" x2="94.2" y2="680.85" stroke="#555" stroke-width="0.9" />
<line x1="107.8" y1="678.45" x2="107.8" y2="680.85" stroke="#555" stroke-width="0.9" />
<line x1="121.4" y1="678.45" x2="121.4" y2="680.85" stroke="#555" stroke-width="0.9" />
<line x1="135" y1="678.45" x2="135" y2="680.85" stroke="#555" stroke-width="0.9" />
<line x1="148.6" y1="678.45" x2="148.6" y2="680.85" stroke="#555" stroke-width="0.9" />
<line x1="162.2" y1="678.45" x2="162.2" y2="680.85" stroke="#555" stroke-width="0.9" />
<line x1="175.8" y1="678.45" x2="175.8" y2="680.85" stroke="#555" stroke-width="0.9" />
<line x1="189.4" y1="678.45" x2="189.4" y2="680.85" stroke="#555" stroke-width="0.9" />
<line x1="203" y1="678.45" x2="203" y2="680.85" stroke="#555" stroke-width="0.9" />
<line x1="216.6" y1="678.45" x2="216.6" y2="680.85" stroke="#555" stroke-width="0.9" />
<line x1="230.2" y1="678.45" x2="230.2" y2="680.85" stroke="#555" stroke-width="0.9" />
<line x1="243.8" y1="678.45" x2="243.8" y2="680.85" stroke="#555" stroke-width="0.9" />
<line x1="257.4" y1="678.45" x2="257.4" y2="680.85" stroke="#555" stroke-width="0.9" />
<line x1="271" y1="678.45" x2="271" y2="680.85" stroke="#555" stroke-width="0.9" />
<line x1="284.6" y1="678.45" x2="284.6" y2="680.85" stroke="#555" stroke-width="0.9" />
<line x1="298.2" y1="678.45" x2="298.2" y2="680.85" stroke="#555" stroke-width="0.9" />
<line x1="311.8" y1="678.45" x2="311.8" y2="680.85" stroke="#555" stroke-width="0.9" />
<line x1="325.4" y1="678.45" x2="325.4" y2="680.85" stroke="#555" stroke-width="0.9" />
<line x1="339" y1="678.45" x2="339" y2="680.85" stroke="#555" stroke-width="0.9" />
<line x1="352.6" y1="678.45" x2="352.6" y2="680.85" stroke="#555" stroke-width="0.9" />
<line x1="366.2" y1="678.45" x2="366.2" y2="680.85" stroke="#555" stroke-width="0.9" />
<line x1="379.8" y1="678.45" x2="379.8" y2="680.85" stroke="#555" stroke-width="0.9" />
<line x1="393.4" y1="678.45" x2="393.4" y2="680.85" stroke="#555" stroke-width="0.9" />
<line x1="407" y1="678.45" x2="407" y2="680.85" stroke="#555" stroke-width="0.9" />
<line x1="420.6" y1="678.45" x2="420.6" y2="680.85" stroke="#555" stroke-width="0.9" />
<line x1="434.2" y1="678.45" x2="434.2" y2="680.85" stroke="#555" stroke-width="0.9" />
<line x1="447.8" y1="678.45" x2="447.8" y2="680.85" stroke="#555" stroke-width="0.9" />
<line x1="461.4" y1="678.45" x2="461.4" y2="680.85" stroke="#555" stroke-width="0.9" />
<line x1="475" y1="678.45" x2="475" y2="680.85" stroke="#555" stroke-width="0.9" />
<line x1="488.6" y1="678.45" x2="488.6" y2="680.85" stroke="#555" stroke-width="0.9" />
<text transform="translate(74.9 682.45) scale(0.967 1)" font-size="13.4" font-weight="bold" text-anchor="end" font-family="'Liberation Serif', serif" fill="#000" stroke="#000" stroke-width="0.25">1</text>
<text transform="translate(74.9 648.86) scale(0.967 1)" font-size="13.4" font-weight="bold" text-anchor="end" font-family="'Liberation Serif', serif" fill="#000" stroke="#000" stroke-width="0.25">10</text>
<text transform="translate(74.9 615.26) scale(0.967 1)" font-size="13.4" font-weight="bold" text-anchor="end" font-family="'Liberation Serif', serif" fill="#000" stroke="#000" stroke-width="0.25">100</text>
<text transform="translate(74.9 581.67) scale(0.967 1)" font-size="13.4" font-weight="bold" text-anchor="end" font-family="'Liberation Serif', serif" fill="#000" stroke="#000" stroke-width="0.25">1000</text>
<text transform="translate(74.9 548.08) scale(0.967 1)" font-size="13.4" font-weight="bold" text-anchor="end" font-family="'Liberation Serif', serif" fill="#000" stroke="#000" stroke-width="0.25">10000</text>
<text transform="translate(74.9 514.48) scale(0.967 1)" font-size="13.4" font-weight="bold" text-anchor="end" font-family="'Liberation Serif', serif" fill="#000" stroke="#000" stroke-width="0.25">100000</text>
<text transform="translate(74.9 480.89) scale(0.967 1)" font-size="13.4" font-weight="bold" text-anchor="end" font-family="'Liberation Serif', serif" fill="#000" stroke="#000" stroke-width="0.25">1000000</text>
<text transform="translate(74.9 447.29) scale(0.967 1)" font-size="13.4" font-weight="bold" text-anchor="end" font-family="'Liberation Serif', serif" fill="#000" stroke="#000" stroke-width="0.25">10000000</text>
<text transform="translate(74.9 413.7) scale(0.967 1)" font-size="13.4" font-weight="bold" text-anchor="end" font-family="'Liberation Serif', serif" fill="#000" stroke="#000" stroke-width="0.25">100000000</text>
<text transform="translate(494.6 682.05) scale(0.967 1)" font-size="13.4" font-weight="bold" text-anchor="start" font-family="'Liberation Serif', serif" fill="#000" stroke="#000" stroke-width="0.25">1</text>
<text transform="translate(494.6 592.47) scale(0.967 1)" font-size="13.4" font-weight="bold" text-anchor="start" font-family="'Liberation Serif', serif" fill="#000" stroke="#000" stroke-width="0.25">10</text>
<text transform="translate(494.6 502.88) scale(0.967 1)" font-size="13.4" font-weight="bold" text-anchor="start" font-family="'Liberation Serif', serif" fill="#000" stroke="#000" stroke-width="0.25">100</text>
<text transform="translate(494.6 413.3) scale(0.967 1)" font-size="13.4" font-weight="bold" text-anchor="start" font-family="'Liberation Serif', serif" fill="#000" stroke="#000" stroke-width="0.25">1000</text>
<text transform="translate(12.3 545) rotate(-90)" font-size="13.5" font-weight="normal" text-anchor="middle" font-family="'Liberation Serif', serif" fill="#000">Copy number</text>
<line x1="87.2" y1="581.25" x2="101.5" y2="562.75" stroke="#000" stroke-width="1.60" stroke-linecap="round"/>
<rect x="84.75" y="578.8" width="4.9" height="4.9" fill="#000"/>
<rect x="99.05" y="560.3" width="4.9" height="4.9" fill="#000"/>
<line x1="127.75" y1="572.5" x2="141.75" y2="575" stroke="#000" stroke-width="1.60" stroke-linecap="round"/>
<line x1="141.75" y1="575" x2="155.5" y2="559.3" stroke="#000" stroke-width="1.60" stroke-linecap="round"/>
<rect x="125.3" y="570.05" width="4.9" height="4.9" fill="#000"/>
<rect x="139.3" y="572.55" width="4.9" height="4.9" fill="#000"/>
<rect x="153.05" y="556.85" width="4.9" height="4.9" fill="#000"/>
<line x1="182.75" y1="581.5" x2="196.25" y2="572.5" stroke="#000" stroke-width="1.60" stroke-linecap="round"/>
<rect x="180.3" y="579.05" width="4.9" height="4.9" fill="#000"/>
<rect x="193.8" y="570.05" width="4.9" height="4.9" fill="#000"/>
<line x1="223.25" y1="540.9" x2="236.75" y2="562.5" stroke="#000" stroke-width="1.60" stroke-linecap="round"/>
<rect x="220.8" y="538.45" width="4.9" height="4.9" fill="#000"/>
<rect x="234.3" y="560.05" width="4.9" height="4.9" fill="#000"/>
<line x1="264.25" y1="561.25" x2="277.75" y2="540.75" stroke="#000" stroke-width="1.60" stroke-linecap="round"/>
<line x1="277.75" y1="540.75" x2="291.5" y2="537" stroke="#000" stroke-width="1.60" stroke-linecap="round"/>
<rect x="261.8" y="558.8" width="4.9" height="4.9" fill="#000"/>
<rect x="289.05" y="534.55" width="4.9" height="4.9" fill="#000"/>
<line x1="318" y1="537.4" x2="332" y2="428" stroke="#000" stroke-width="1.35" stroke-linecap="round"/>
<rect x="315.55" y="534.95" width="4.9" height="4.9" fill="#000"/>
<rect x="329.55" y="425.55" width="4.9" height="4.9" fill="#000"/>
<line x1="359.5" y1="557.6" x2="373.25" y2="520" stroke="#000" stroke-width="1.60" stroke-linecap="round"/>
<rect x="357.05" y="555.15" width="4.9" height="4.9" fill="#000"/>
<rect x="370.8" y="517.55" width="4.9" height="4.9" fill="#000"/>
<line x1="400.25" y1="569.25" x2="413.5" y2="532.3" stroke="#000" stroke-width="1.60" stroke-linecap="round"/>
<line x1="413.5" y1="532.3" x2="427.1" y2="553.7" stroke="#000" stroke-width="1.60" stroke-linecap="round"/>
<line x1="427.1" y1="553.7" x2="440.9" y2="541.5" stroke="#000" stroke-width="1.60" stroke-linecap="round"/>
<rect x="397.8" y="566.8" width="4.9" height="4.9" fill="#000"/>
<rect x="411.05" y="529.85" width="4.9" height="4.9" fill="#000"/>
<rect x="424.65" y="551.25" width="4.9" height="4.9" fill="#000"/>
<rect x="438.45" y="539.05" width="4.9" height="4.9" fill="#000"/>
<line x1="467.8" y1="678.3" x2="482.1" y2="543.4" stroke="#000" stroke-width="1.35" stroke-linecap="round"/>
<rect x="479.65" y="540.95" width="4.9" height="4.9" fill="#000"/>
<line x1="87.5" y1="516.25" x2="101.5" y2="510.25" stroke="#000" stroke-width="1.60" stroke-linecap="round"/>
<path d="M87.5 513.45L90.3 516.25L87.5 519.05L84.7 516.25Z" fill="#000" stroke="#000" stroke-width="0.8" stroke-linejoin="round"/>
<path d="M101.5 507.45L104.3 510.25L101.5 513.05L98.7 510.25Z" fill="#000" stroke="#000" stroke-width="0.8" stroke-linejoin="round"/>
<line x1="128.25" y1="516.25" x2="142.25" y2="498.25" stroke="#000" stroke-width="1.60" stroke-linecap="round"/>
<line x1="142.25" y1="498.25" x2="155.75" y2="507.5" stroke="#000" stroke-width="1.60" stroke-linecap="round"/>
<path d="M128.25 513.45L131.05 516.25L128.25 519.05L125.45 516.25Z" fill="#000" stroke="#000" stroke-width="0.8" stroke-linejoin="round"/>
<path d="M142.25 495.45L145.05 498.25L142.25 501.05L139.45 498.25Z" fill="#000" stroke="#000" stroke-width="0.8" stroke-linejoin="round"/>
<path d="M155.75 504.7L158.55 507.5L155.75 510.3L152.95 507.5Z" fill="#000" stroke="#000" stroke-width="0.8" stroke-linejoin="round"/>
<line x1="183" y1="484.5" x2="196.5" y2="522" stroke="#000" stroke-width="1.60" stroke-linecap="round"/>
<path d="M183 481.7L185.8 484.5L183 487.3L180.2 484.5Z" fill="#000" stroke="#000" stroke-width="0.8" stroke-linejoin="round"/>
<path d="M196.5 519.2L199.3 522L196.5 524.8L193.7 522Z" fill="#000" stroke="#000" stroke-width="0.8" stroke-linejoin="round"/>
<line x1="223.5" y1="503.75" x2="237" y2="517.5" stroke="#000" stroke-width="1.60" stroke-linecap="round"/>
<path d="M223.5 500.95L226.3 503.75L223.5 506.55L220.7 503.75Z" fill="#000" stroke="#000" stroke-width="0.8" stroke-linejoin="round"/>
<path d="M237 514.7L239.8 517.5L237 520.3L234.2 517.5Z" fill="#000" stroke="#000" stroke-width="0.8" stroke-linejoin="round"/>
<line x1="264.5" y1="501.5" x2="278" y2="490" stroke="#000" stroke-width="1.60" stroke-linecap="round"/>
<line x1="278" y1="490" x2="291.75" y2="505.75" stroke="#000" stroke-width="1.60" stroke-linecap="round"/>
<path d="M264.5 498.7L267.3 501.5L264.5 504.3L261.7 501.5Z" fill="#000" stroke="#000" stroke-width="0.8" stroke-linejoin="round"/>
<path d="M278 487.2L280.8 490L278 492.8L275.2 490Z" fill="#000" stroke="#000" stroke-width="0.8" stroke-linejoin="round"/>
<path d="M291.75 502.95L294.55 505.75L291.75 508.55L288.95 505.75Z" fill="#000" stroke="#000" stroke-width="0.8" stroke-linejoin="round"/>
<line x1="318.25" y1="497.5" x2="332.5" y2="423.75" stroke="#000" stroke-width="1.35" stroke-linecap="round"/>
<path d="M318.25 494.7L321.05 497.5L318.25 500.3L315.45 497.5Z" fill="#000" stroke="#000" stroke-width="0.8" stroke-linejoin="round"/>
<path d="M332.5 420.95L335.3 423.75L332.5 426.55L329.7 423.75Z" fill="#000" stroke="#000" stroke-width="0.8" stroke-linejoin="round"/>
<line x1="359.75" y1="522" x2="373.5" y2="494.25" stroke="#000" stroke-width="1.60" stroke-linecap="round"/>
<path d="M359.75 519.2L362.55 522L359.75 524.8L356.95 522Z" fill="#000" stroke="#000" stroke-width="0.8" stroke-linejoin="round"/>
<path d="M373.5 491.45L376.3 494.25L373.5 497.05L370.7 494.25Z" fill="#000" stroke="#000" stroke-width="0.8" stroke-linejoin="round"/>
<line x1="400.5" y1="535.75" x2="414" y2="510.25" stroke="#000" stroke-width="1.60" stroke-linecap="round"/>
<line x1="414" y1="510.25" x2="427.25" y2="531.6" stroke="#000" stroke-width="1.60" stroke-linecap="round"/>
<line x1="427.25" y1="531.6" x2="441.1" y2="522" stroke="#000" stroke-width="1.60" stroke-linecap="round"/>
<path d="M400.5 532.95L403.3 535.75L400.5 538.55L397.7 535.75Z" fill="#000" stroke="#000" stroke-width="0.8" stroke-linejoin="round"/>
<path d="M414 507.45L416.8 510.25L414 513.05L411.2 510.25Z" fill="#000" stroke="#000" stroke-width="0.8" stroke-linejoin="round"/>
<path d="M427.25 528.8L430.05 531.6L427.25 534.4L424.45 531.6Z" fill="#000" stroke="#000" stroke-width="0.8" stroke-linejoin="round"/>
<path d="M441.1 519.2L443.9 522L441.1 524.8L438.3 522Z" fill="#000" stroke="#000" stroke-width="0.8" stroke-linejoin="round"/>
<line x1="467.8" y1="452.8" x2="482.3" y2="525.4" stroke="#000" stroke-width="1.35" stroke-linecap="round"/>
<path d="M467.8 450L470.6 452.8L467.8 455.6L465 452.8Z" fill="#000" stroke="#000" stroke-width="0.8" stroke-linejoin="round"/>
<path d="M482.3 522.6L485.1 525.4L482.3 528.2L479.5 525.4Z" fill="#000" stroke="#000" stroke-width="0.8" stroke-linejoin="round"/>
<rect x="275.7" y="538.6" width="4.2" height="4.2" fill="#fff" stroke="#868686" stroke-width="1"/>
<rect x="465.6" y="676.1" width="4.4" height="4.4" fill="#fff" stroke="#868686" stroke-width="1"/>
<path d="M465.3 675.8h2.2l-2.2 2.6z" fill="#000"/>
<polyline points="87.5,503.1 101.5,536.4" fill="none" stroke="#868686" stroke-width="1.3" stroke-linejoin="miter"/>
<path d="M87.5 500.75L89.65 505.45L85.35 505.45Z" fill="#fff" stroke="#868686" stroke-width="1.2" stroke-linejoin="miter"/>
<path d="M101.5 534.05L103.65 538.75L99.35 538.75Z" fill="#fff" stroke="#868686" stroke-width="1.2" stroke-linejoin="miter"/>
<polyline points="128.25,525.75 142.25,473 155.75,537.25" fill="none" stroke="#868686" stroke-width="1.3" stroke-linejoin="miter"/>
<path d="M128.25 523.4L130.4 528.1L126.1 528.1Z" fill="#fff" stroke="#868686" stroke-width="1.2" stroke-linejoin="miter"/>
<path d="M142.25 470.65L144.4 475.35L140.1 475.35Z" fill="#fff" stroke="#868686" stroke-width="1.2" stroke-linejoin="miter"/>
<path d="M155.75 534.9L157.9 539.6L153.6 539.6Z" fill="#fff" stroke="#868686" stroke-width="1.2" stroke-linejoin="miter"/>
<polyline points="183,420 196.5,544" fill="none" stroke="#868686" stroke-width="1.3" stroke-linejoin="miter"/>
<path d="M183 417.65L185.15 422.35L180.85 422.35Z" fill="#fff" stroke="#868686" stroke-width="1.2" stroke-linejoin="miter"/>
<path d="M196.5 541.65L198.65 546.35L194.35 546.35Z" fill="#fff" stroke="#868686" stroke-width="1.2" stroke-linejoin="miter"/>
<polyline points="223.5,578 237,558" fill="none" stroke="#868686" stroke-width="1.3" stroke-linejoin="miter"/>
<path d="M223.5 575.65L225.65 580.35L221.35 580.35Z" fill="#fff" stroke="#868686" stroke-width="1.2" stroke-linejoin="miter"/>
<path d="M237 555.65L239.15 560.35L234.85 560.35Z" fill="#fff" stroke="#868686" stroke-width="1.2" stroke-linejoin="miter"/>
<polyline points="264.5,519.25 277.75,540.6 291.75,593.5" fill="none" stroke="#868686" stroke-width="1.3" stroke-linejoin="miter"/>
<path d="M264.5 516.9L266.65 521.6L262.35 521.6Z" fill="#fff" stroke="#868686" stroke-width="1.2" stroke-linejoin="miter"/>
<path d="M277.75 538.25L279.9 542.95L275.6 542.95Z" fill="#fff" stroke="#868686" stroke-width="1.2" stroke-linejoin="miter"/>
<path d="M291.75 591.15L293.9 595.85L289.6 595.85Z" fill="#fff" stroke="#868686" stroke-width="1.2" stroke-linejoin="miter"/>
<polyline points="318.1,572.25 332.5,664.75" fill="none" stroke="#868686" stroke-width="1.3" stroke-linejoin="miter"/>
<path d="M318.1 569.9L320.25 574.6L315.95 574.6Z" fill="#fff" stroke="#868686" stroke-width="1.2" stroke-linejoin="miter"/>
<path d="M332.5 662.4L334.65 667.1L330.35 667.1Z" fill="#fff" stroke="#868686" stroke-width="1.2" stroke-linejoin="miter"/>
<polyline points="359.75,581 373.25,610.25" fill="none" stroke="#868686" stroke-width="1.3" stroke-linejoin="miter"/>
<path d="M359.75 578.65L361.9 583.35L357.6 583.35Z" fill="#fff" stroke="#868686" stroke-width="1.2" stroke-linejoin="miter"/>
<path d="M373.25 607.9L375.4 612.6L371.1 612.6Z" fill="#fff" stroke="#868686" stroke-width="1.2" stroke-linejoin="miter"/>
<polyline points="400.5,587.75 414,617.5 427.4,617.6 441.1,624.8" fill="none" stroke="#868686" stroke-width="1.3" stroke-linejoin="miter"/>
<path d="M400.5 585.4L402.65 590.1L398.35 590.1Z" fill="#fff" stroke="#868686" stroke-width="1.2" stroke-linejoin="miter"/>
<path d="M414 615.15L416.15 619.85L411.85 619.85Z" fill="#fff" stroke="#868686" stroke-width="1.2" stroke-linejoin="miter"/>
<path d="M427.4 615.25L429.55 619.95L425.25 619.95Z" fill="#fff" stroke="#868686" stroke-width="1.2" stroke-linejoin="miter"/>
<path d="M441.1 622.45L443.25 627.15L438.95 627.15Z" fill="#fff" stroke="#868686" stroke-width="1.2" stroke-linejoin="miter"/>
<polyline points="467.8,678.3 482.3,630.9" fill="none" stroke="#868686" stroke-width="1.3" stroke-linejoin="miter"/>
<path d="M467.8 675.95L469.95 680.65L465.65 680.65Z" fill="#fff" stroke="#868686" stroke-width="1.2" stroke-linejoin="miter"/>
<path d="M482.3 628.55L484.45 633.25L480.15 633.25Z" fill="#fff" stroke="#868686" stroke-width="1.2" stroke-linejoin="miter"/>
<line x1="371" y1="417.9" x2="392.2" y2="417.9" stroke="#000" stroke-width="1.5" />
<rect x="378.5" y="415.5" width="4.8" height="4.8" fill="#000"/>
<text x="397.8" y="422" font-size="13.4" font-weight="normal" text-anchor="start" font-family="'Liberation Serif', serif" fill="#000" >IFN-γ/CD4</text>
<line x1="370.3" y1="432.5" x2="391.4" y2="432.5" stroke="#000" stroke-width="1.5" />
<path d="M380.7 429.3L383.9 432.5L380.7 435.7L377.5 432.5Z" fill="#000" stroke="#000" stroke-width="0.8" stroke-linejoin="round"/>
<text x="397.8" y="436.5" font-size="13.4" font-weight="normal" text-anchor="start" font-family="'Liberation Serif', serif" fill="#000" >IFN-γ/CD8</text>
<line x1="370.3" y1="447.3" x2="391.4" y2="447.3" stroke="#8a8a8a" stroke-width="1.2" />
<path d="M380.6 445.25L382.45 449.15L378.75 449.15Z" fill="#fff" stroke="#8a8a8a" stroke-width="1.1" stroke-linejoin="miter"/>
<text x="398.3" y="451.8" font-size="13.4" font-weight="normal" text-anchor="start" font-family="'Liberation Serif', serif" fill="#000" >CD4/CD8</text>
<text transform="translate(96 687.2) rotate(-90)" font-size="13" font-weight="bold" text-anchor="end" font-family="'Liberation Serif', serif" fill="#000" stroke="#000" stroke-width="0.3">no. 001_0</text>
<text transform="translate(111 688.2) rotate(-90)" font-size="13" font-weight="bold" text-anchor="end" font-family="'Liberation Serif', serif" fill="#000" stroke="#000" stroke-width="0.3">no. 001_3</text>
<text transform="translate(138.8 687.2) rotate(-90)" font-size="13" font-weight="bold" text-anchor="end" font-family="'Liberation Serif', serif" fill="#000" stroke="#000" stroke-width="0.3">no. 002_0</text>
<text transform="translate(153.7 688.2) rotate(-90)" font-size="13" font-weight="bold" text-anchor="end" font-family="'Liberation Serif', serif" fill="#000" stroke="#000" stroke-width="0.3">no. 002_3</text>
<text transform="translate(167.6 687.2) rotate(-90)" font-size="13" font-weight="bold" text-anchor="end" font-family="'Liberation Serif', serif" fill="#000" stroke="#000" stroke-width="0.3">no. 002_6</text>
<text transform="translate(193.7 687.2) rotate(-90)" font-size="13" font-weight="bold" text-anchor="end" font-family="'Liberation Serif', serif" fill="#000" stroke="#000" stroke-width="0.3">no. 003_0</text>
<text transform="translate(206.7 688.2) rotate(-90)" font-size="13" font-weight="bold" text-anchor="end" font-family="'Liberation Serif', serif" fill="#000" stroke="#000" stroke-width="0.3">no. 003_3</text>
<text transform="translate(233.5 687.2) rotate(-90)" font-size="13" font-weight="bold" text-anchor="end" font-family="'Liberation Serif', serif" fill="#000" stroke="#000" stroke-width="0.3">no. 004_0</text>
<text transform="translate(247.5 688.2) rotate(-90)" font-size="12.5" font-weight="bold" text-anchor="end" font-family="'Liberation Serif', serif" fill="#000" stroke="#000" stroke-width="0.3">3004_3</text>
<text transform="translate(273.5 687.2) rotate(-90)" font-size="13" font-weight="bold" text-anchor="end" font-family="'Liberation Serif', serif" fill="#000" stroke="#000" stroke-width="0.3">no. 005_0</text>
<text transform="translate(287.5 688.2) rotate(-90)" font-size="13" font-weight="bold" text-anchor="end" font-family="'Liberation Serif', serif" fill="#000" stroke="#000" stroke-width="0.3">no. 005_3</text>
<text transform="translate(301 687.2) rotate(-90)" font-size="12.5" font-weight="bold" text-anchor="end" font-family="'Liberation Serif', serif" fill="#000" stroke="#000" stroke-width="0.3">3005-6</text>
<text transform="translate(326.3 687.2) rotate(-90)" font-size="13" font-weight="bold" text-anchor="end" font-family="'Liberation Serif', serif" fill="#000" stroke="#000" stroke-width="0.3">no. 006_0</text>
<text transform="translate(341.3 688.2) rotate(-90)" font-size="13" font-weight="bold" text-anchor="end" font-family="'Liberation Serif', serif" fill="#000" stroke="#000" stroke-width="0.3">no. 006_3</text>
<text transform="translate(367.9 687.2) rotate(-90)" font-size="13" font-weight="bold" text-anchor="end" font-family="'Liberation Serif', serif" fill="#000" stroke="#000" stroke-width="0.3">no. 007_0</text>
<text transform="translate(381.3 688.2) rotate(-90)" font-size="13" font-weight="bold" text-anchor="end" font-family="'Liberation Serif', serif" fill="#000" stroke="#000" stroke-width="0.3">no. 007_3</text>
<text transform="translate(408.8 687.2) rotate(-90)" font-size="13" font-weight="bold" text-anchor="end" font-family="'Liberation Serif', serif" fill="#000" stroke="#000" stroke-width="0.3">no. 008_0</text>
<text transform="translate(422.7 688.2) rotate(-90)" font-size="13" font-weight="bold" text-anchor="end" font-family="'Liberation Serif', serif" fill="#000" stroke="#000" stroke-width="0.3">no. 008_3</text>
<text transform="translate(436.2 687.2) rotate(-90)" font-size="13" font-weight="bold" text-anchor="end" font-family="'Liberation Serif', serif" fill="#000" stroke="#000" stroke-width="0.3">no. 008_6</text>
<text transform="translate(450.5 688.2) rotate(-90)" font-size="13" font-weight="bold" text-anchor="end" font-family="'Liberation Serif', serif" fill="#000" stroke="#000" stroke-width="0.3">no. 008_9</text>
<text transform="translate(476.2 687.2) rotate(-90)" font-size="13" font-weight="bold" text-anchor="end" font-family="'Liberation Serif', serif" fill="#000" stroke="#000" stroke-width="0.3">no. 009_0</text>
<text transform="translate(490.5 688.2) rotate(-90)" font-size="13" font-weight="bold" text-anchor="end" font-family="'Liberation Serif', serif" fill="#000" stroke="#000" stroke-width="0.3">no. 009_3</text>
</g></svg>
</body></html>
